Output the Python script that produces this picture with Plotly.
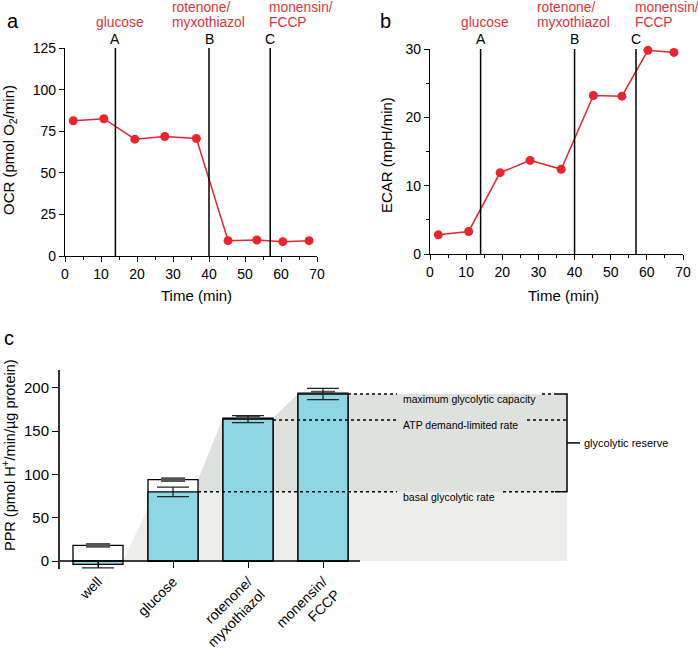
import plotly.graph_objects as go

# ---------------- data ----------------
time_min = [2.3, 10.8, 19.4, 27.7, 36.5, 45.3, 53.3, 60.5, 67.8]
ocr = [81.3, 82.5, 70.2, 71.8, 70.6, 9.2, 9.6, 8.6, 9.2]
time_min_b = [2.3, 10.7, 19.4, 27.7, 36.3, 45.2, 53.1, 60.3, 67.5]
ecar = [2.8, 3.3, 11.9, 13.7, 12.4, 23.2, 23.1, 29.8, 29.5]

inject_times = [14, 40, 57]
inject_letters = ["A", "B", "C"]
inject_drugs = [["glucose"], ["rotenone/", "myxothiazol"], ["monensin/", "FCCP"]]

ppr_categories = ["well", "glucose", "rotenone/<br>myxothiazol", "monensin/<br>FCCP"]
ppr_total = [18, 94, 165, 194]
ppr_total_err = [1, 1, 1, 1]
ppr_glyco = [-4, 80, 164, 193]
ppr_glyco_err = [4, 5.5, 4, 6.5]

basal_rate = 80
atp_rate = 163
max_rate = 193

# ---------------- helpers ----------------
W, H = 698, 649
def px(x):
    return x / W
def py(y):
    return 1 - y / H

RED = "#e5262e"
RED_TXT = "#e0323b"
CYAN = "#8fd6e4"
FONT = "Liberation Sans, Arial, sans-serif"

fig = go.Figure()

# panel a
fig.add_trace(go.Scatter(x=time_min, y=ocr, mode="lines+markers",
                         line=dict(color=RED, width=1.5),
                         marker=dict(color=RED, size=9),
                         xaxis="x", yaxis="y", cliponaxis=False, showlegend=False))
# panel b
fig.add_trace(go.Scatter(x=time_min_b, y=ecar, mode="lines+markers",
                         line=dict(color=RED, width=1.5),
                         marker=dict(color=RED, size=9),
                         xaxis="x2", yaxis="y2", cliponaxis=False, showlegend=False))

# panel c bars
cat_pos = list(range(len(ppr_categories)))
BW = 0.667
fig.add_trace(go.Bar(x=cat_pos, y=ppr_total, width=BW,
                     marker=dict(color="white", line=dict(color="black", width=1.3)),
                     error_y=dict(type="data", array=ppr_total_err, color="#555555",
                                  thickness=3, width=12),
                     xaxis="x3", yaxis="y3", showlegend=False))
fig.add_trace(go.Bar(x=cat_pos, y=ppr_glyco, width=BW,
                     marker=dict(color=CYAN, line=dict(color="black", width=1.3)),
                     error_y=dict(type="data", array=ppr_glyco_err, color="#222222",
                                  thickness=1.3, width=16),
                     xaxis="x3", yaxis="y3", showlegend=False))

axis_common = dict(showline=True, linecolor="black", linewidth=1.3, ticks="outside",
                   ticklen=5, tickwidth=1.3, tickcolor="black", showgrid=False,
                   zeroline=False, automargin=False,
                   tickfont=dict(size=14, color="black", family=FONT))

layout = dict(
    width=W, height=H, margin=dict(l=0, r=0, t=0, b=0, pad=0, autoexpand=False),
    paper_bgcolor="white", plot_bgcolor="rgba(0,0,0,0)",
    font=dict(family=FONT, color="black"),
    barmode="overlay", showlegend=False,
    xaxis=dict(domain=[px(65), px(317)], range=[0, 70], dtick=10, anchor="y",
               minor=dict(dtick=5, ticklen=3, ticks="outside", tickcolor="black"),
               **axis_common),
    yaxis=dict(domain=[py(256), py(48)], range=[0, 125], dtick=25, anchor="x",
               **axis_common),
    xaxis2=dict(domain=[px(430), px(683)], range=[0, 70], dtick=10, anchor="y2",
                minor=dict(dtick=5, ticklen=3, ticks="outside", tickcolor="black"),
                **axis_common),
    yaxis2=dict(domain=[py(254), py(49)], range=[0, 30], dtick=10, anchor="x2",
                minor=dict(dtick=5, ticklen=3, ticks="outside", tickcolor="black"),
                **axis_common),
)

# panel c axes
c_left_px, c_unit_px = 60, 75.0
c_x0 = -(98 - c_left_px) / c_unit_px
c_x1 = c_x0 + (W - c_left_px) / c_unit_px
layout["xaxis3"] = dict(domain=[px(60), 1], range=[c_x0, c_x1], anchor="free",
                        position=py(561), showline=False, ticks="outside", ticklen=6,
                        tickwidth=1.3, tickcolor="black", showgrid=False, zeroline=False,
                        automargin=False,
                        tickvals=cat_pos, ticktext=ppr_categories, tickangle=-45,
                        tickfont=dict(size=14, color="black", family=FONT))
layout["yaxis3"] = dict(domain=[py(569), py(370)], range=[-9.25, 220.8], dtick=50,
                        anchor="x3", showline=True, linecolor="#333333", linewidth=2,
                        ticks="outside", ticklen=6, tickwidth=1.3, tickcolor="black",
                        showgrid=False, zeroline=False, automargin=False,
                        tickfont=dict(size=15, color="black", family=FONT))
fig.update_layout(**layout)

shapes = []
annotations = []

def ann(**kw):
    base = dict(showarrow=False, xanchor="center", yanchor="middle")
    base.update(kw)
    annotations.append(base)

# injection lines and labels for panels a & b
drug_left = [8.1, 29.1, 56.2]
for xr, yr, ymax in [("x", "y", 125), ("x2", "y2", 30)]:
    for t, letter in zip(inject_times, inject_letters):
        shapes.append(dict(type="line", xref=xr, yref=yr, x0=t, x1=t, y0=0, y1=ymax,
                           line=dict(color="black", width=1.5)))
        ann(xref=xr, yref="paper", x=t, y=py(39), text=letter,
            font=dict(size=14, color="black"))
    for dl, drug in zip(drug_left, inject_drugs):
        centers = [22] if len(drug) == 1 else [7, 22]
        for ln, cy in zip(drug, centers):
            ann(xref=xr, yref="paper", x=dl, y=py(cy), text=ln, xanchor="left",
                font=dict(size=13.8, color=RED_TXT))

# axis titles & panel letters
ann(xref="paper", yref="paper", x=px(196), y=py(295), text="Time (min)", font=dict(size=15))
ann(xref="paper", yref="paper", x=px(563), y=py(295), text="Time (min)", font=dict(size=15))
ann(xref="paper", yref="paper", x=px(9), y=py(150), text="OCR (pmol O<sub>2</sub>/min)",
    textangle=-90, font=dict(size=15))
ann(xref="paper", yref="paper", x=px(387), y=py(155), text="ECAR (mpH/min)",
    textangle=-90, font=dict(size=15))
ann(xref="paper", yref="paper", x=px(9), y=py(455),
    text="PPR (pmol H<sup>+</sup>/min/µg protein)", textangle=-90, font=dict(size=14.5))
ann(xref="paper", yref="paper", x=px(13), y=py(21), text="a", font=dict(size=20))
ann(xref="paper", yref="paper", x=px(385), y=py(21), text="b", font=dict(size=20))
ann(xref="paper", yref="paper", x=px(9), y=py(338), text="c", font=dict(size=20))

# panel c decorations
hw = BW / 2
def cx(p):
    return c_x0 + (p - c_left_px) / c_unit_px

x_right = cx(567)     # bracket / shading edge
x_bra_in = cx(555)
x_tick_out = cx(580)
x_text = cx(401)
x_gap0 = cx(397)
ramp_mid = 62  # ramp level behind the glucose bar

light = [(cat_pos[0] + hw, 0), (cat_pos[1] - hw, ramp_mid),
         (cat_pos[1] + hw, ppr_total[1]), (cat_pos[2] - hw, ppr_total[2]),
         (cat_pos[2] + hw, ppr_total[2]), (cat_pos[3] - hw, max_rate),
         (x_right, max_rate), (x_right, 0)]
dark = [(cat_pos[1] + hw, basal_rate), (cat_pos[1] + hw, ppr_total[1]),
        (cat_pos[2] - hw, ppr_total[2]), (cat_pos[2] + hw, ppr_total[2]),
        (cat_pos[3] - hw, max_rate), (x_right, max_rate), (x_right, basal_rate)]

def path(pts):
    return "M " + " L ".join(f"{a},{b}" for a, b in pts) + " Z"

shapes.append(dict(type="path", xref="x3", yref="y3", path=path(light),
                   fillcolor="#edeeec", line=dict(width=0), layer="below"))
shapes.append(dict(type="path", xref="x3", yref="y3", path=path(dark),
                   fillcolor="#dfe1de", line=dict(width=0), layer="below"))

# x axis line of panel c at y = 0
shapes.append(dict(type="line", xref="x3", yref="y3", x0=c_x0, x1=cx(360),
                   y0=0, y1=0, line=dict(color="black", width=1.5)))

dot = dict(color="black", width=1.5, dash="dot")
def seg(x0, x1, y, line=dot):
    shapes.append(dict(type="line", xref="x3", yref="y3", x0=x0, x1=x1, y0=y, y1=y,
                       line=line, layer="above"))

# max
seg(cat_pos[3] + hw, x_gap0, max_rate)
seg(cx(542), x_bra_in, max_rate)
# ATP
seg(cat_pos[2] + hw, x_gap0, atp_rate)
seg(cx(527), x_right, atp_rate)
# basal
seg(cat_pos[1] + hw, x_gap0, basal_rate)
seg(cx(503), x_bra_in, basal_rate)

# bracket
solid = dict(color="black", width=1.5)
shapes.append(dict(type="path", xref="x3", yref="y3",
                   path=f"M {x_bra_in},{max_rate} L {x_right},{max_rate} L {x_right},{basal_rate} L {x_bra_in},{basal_rate}",
                   line=solid, layer="above"))
mid = (max_rate + basal_rate) / 2
seg(x_right, x_tick_out, mid, solid)

for txt, yv in [("maximum glycolytic capacity", max_rate),
                ("ATP demand-limited rate", atp_rate),
                ("basal glycolytic rate", basal_rate)]:
    ann(xref="x3", yref="y3", x=x_text, y=yv - 6, text=txt, xanchor="left",
        font=dict(size=10.5))
ann(xref="x3", yref="y3", x=cx(582), y=mid, text="glycolytic reserve", xanchor="left",
    font=dict(size=11))

fig.update_layout(shapes=shapes, annotations=annotations)
fig.write_html("out.html", config={"displayModeBar": False},
               post_script="document.body.style.margin='0px';")
